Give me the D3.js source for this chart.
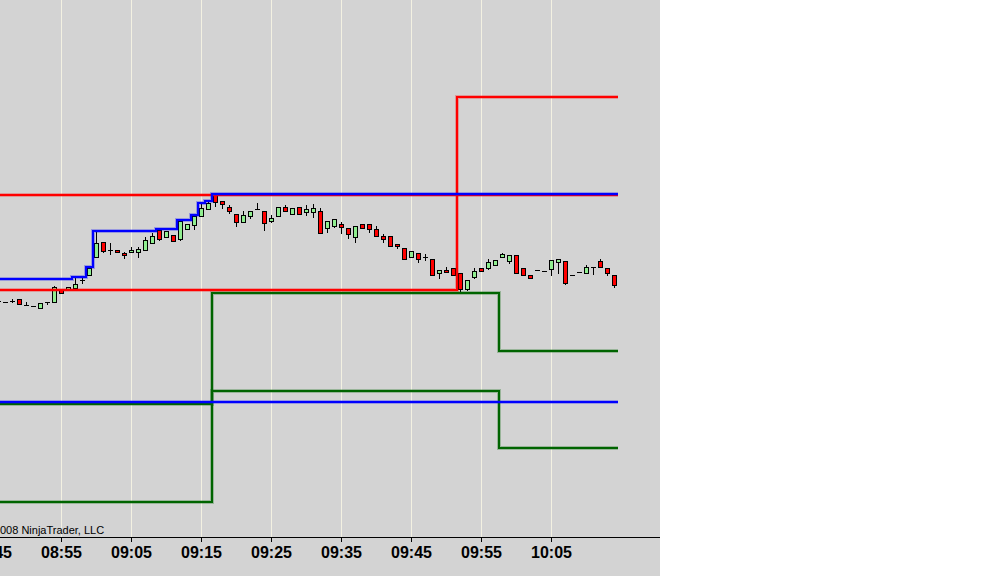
<!DOCTYPE html>
<html><head><meta charset="utf-8">
<script src="https://cdn.jsdelivr.net/npm/d3@7"></script>
<style>body{margin:0;background:#fff;} svg{display:block}</style>
</head><body>
<svg id="c" width="1003" height="576"></svg>
<script>
// ---- DATA ----
const firstBarTime = "08:46";   // 1-minute bars
const opens  = [1274.75,1274.5,1274.75,1275.25,1273.75,1273.5,1273,1274.5,1274.5,1277.5,1277.5,1278,1280,1281.25,1285.75,1289.5,1287.5,1287.5,1286.75,1287,1287,1287.5,1289.25,1292.5,1290.75,1291.25,1290.25,1292.75,1293.75,1296,1297.75,1301.25,1299.75,1298.25,1296.5,1294.5,1296,1297.75,1297.25,1294.75,1296,1298.25,1296.5,1298.25,1297,1297,1297.25,1293,1293.5,1294,1293,1290.75,1294,1294,1292.75,1291,1291,1289,1288,1285.75,1286.75,1285.75,1285.25,1281.75,1282.5,1283,1281.75,1277.75,1280.75,1283,1283,1283.75,1285.75,1284.75,1286.25,1283,1281.25,1282.5,1282.25,1282.75,1284.5,1284.75,1281.25,1282,1281.75,1283.25,1284.75,1283,1281.25];
const highs  = [1274.75,1274.5,1275.25,1275.25,1274.5,1273.5,1274.25,1274.5,1278.5,1277.5,1278.25,1280.75,1280.5,1283.25,1292.25,1289.5,1289.25,1287.5,1287,1288.25,1288.25,1290.75,1291.75,1292.75,1292.25,1291.25,1295,1294,1296.25,1299.25,1299.75,1301.5,1299.75,1298.75,1296.5,1297.25,1297.25,1299.25,1297.25,1296.25,1298.25,1298.75,1298,1298.25,1298.75,1299,1298,1294.75,1295.25,1294.5,1293,1293.5,1294,1294,1293.5,1291.5,1291,1289,1288,1287.25,1286.75,1286.5,1285.25,1282.5,1283.25,1283,1281.75,1280,1283,1283,1285.25,1285,1286.75,1286.25,1286.25,1283,1281.25,1282.5,1282.25,1285,1285.25,1284.75,1281.25,1282,1283.75,1283.25,1285.25,1283,1281.25];
const lows   = [1274.75,1274.5,1274.5,1274,1273.75,1273.5,1273,1274,1274.5,1276.75,1277.5,1278,1279.25,1281.25,1285.75,1287,1286.5,1287,1285.5,1287,1285.75,1287.5,1289.25,1290,1290.75,1289.75,1290,1292.75,1292.75,1296,1297.75,1298.5,1298,1296.75,1293.5,1294.5,1295.5,1297.75,1292.5,1294.5,1296,1297.25,1296.5,1296.5,1296.25,1295.75,1291.75,1292,1293.25,1291.75,1290.5,1289.5,1293,1292,1291,1289.5,1288.5,1288,1285.25,1285.75,1284.5,1285,1281.25,1280.5,1282,1281.25,1277,1277.5,1280.5,1282.25,1282.75,1283.75,1285.75,1284.25,1281.75,1281.25,1280.5,1282.5,1282.25,1281.25,1281.75,1279,1281.25,1282,1281.75,1281.5,1283.25,1281.25,1278.25];
const closes = [1274.75,1274.5,1274.75,1274,1273.75,1273.5,1274.25,1274.5,1278.25,1276.75,1278.25,1279,1280,1283,1289.25,1287.25,1287.5,1287,1286.25,1287.5,1287.75,1290,1291,1290.25,1292.25,1289.75,1294.75,1294,1296,1298,1299.25,1299.5,1299,1297.25,1294.5,1296.25,1297.25,1297.75,1294.25,1295.5,1298.25,1297.25,1298,1296.5,1297.75,1298,1291.75,1294.75,1295.25,1293.25,1291.5,1293.5,1293,1292.75,1291,1290.25,1288.5,1288.5,1285.25,1287.25,1285.25,1285.75,1281.25,1282.5,1282,1281.25,1277.75,1280,1282.25,1282.25,1284.5,1285,1286.5,1286.25,1281.75,1281.25,1280.5,1282.5,1282.25,1285,1285.25,1279.25,1281.25,1282,1283.25,1283.25,1283.25,1281.75,1278.75];

const tickLabels = ["08:45","08:55","09:05","09:15","09:25","09:35","09:45","09:55","10:05"];

// level indicators: [time from which value applies, price]
const redUpperSteps  = [["08:45", 1301.25]];
const redLowerSteps  = [["08:45", 1277.5], ["09:52", 1325.75]];
const blueLowSteps   = [["08:45", 1249.5]];
const blueHighBefore = 1280.25;   // session high carried in from bars left of the view
const green1Steps    = [["08:45", 1249], ["09:17", 1276.75], ["09:58", 1262.25]];
const green2Steps    = [["08:45", 1224.5], ["09:17", 1252.25], ["09:58", 1238]];

const copyright = "\u00A9 2008 NinjaTrader, LLC";

// ---- CHART ----
const W = 1003, H = 576, plotW = 660, axisY = 537;
const svg = d3.select("#c");
const parse = d3.timeParse("%H:%M");
const t0 = parse(firstBarTime);
const bars = opens.map((o, i) => ({t: d3.timeMinute.offset(t0, i), o, h: highs[i], l: lows[i], c: closes[i]}));

const x = d3.scaleTime().domain([parse("08:45"), parse("10:15")]).range([-8.5, 621.5]);
const y = d3.scaleLinear().domain([1206, 1350]).range([576, 0]);

svg.append("rect").attr("width", W).attr("height", H).attr("fill", "#ffffff");
svg.append("rect").attr("width", plotW).attr("height", H).attr("fill", "#d3d3d3");

svg.append("clipPath").attr("id", "plot").append("rect").attr("width", plotW).attr("height", axisY);

const ticks = tickLabels.map(parse);
svg.append("g").selectAll("line").data(ticks).join("line")
  .attr("x1", d => x(d)).attr("x2", d => x(d))
  .attr("y1", 0).attr("y2", axisY)
  .attr("stroke", "#f3f1e2").attr("stroke-width", 1);

const plot = svg.append("g").attr("clip-path", "url(#plot)");

// candles
const cg = plot.append("g");
const bw = 2; // half body width offset
cg.selectAll("line.w").data(bars).join("line").attr("class", "w")
  .attr("x1", d => x(d.t)).attr("x2", d => x(d.t))
  .attr("y1", d => y(d.h)).attr("y2", d => y(d.l) + 1)
  .attr("stroke", "#000").attr("stroke-width", 1);
cg.selectAll("rect.b").data(bars.filter(d => d.o !== d.c)).join("rect").attr("class", "b")
  .attr("x", d => x(d.t) - bw).attr("width", bw * 2)
  .attr("y", d => y(Math.max(d.o, d.c)) + 0.5)
  .attr("height", d => Math.abs(y(d.o) - y(d.c)))
  .attr("fill", d => d.c > d.o ? "#90ee90" : "#ff0000")
  .attr("stroke", "#000").attr("stroke-width", 1);
cg.selectAll("line.d").data(bars.filter(d => d.o === d.c)).join("line").attr("class", "d")
  .attr("x1", d => x(d.t) - 2.5).attr("x2", d => x(d.t) + 2.5)
  .attr("y1", d => y(d.o) + 0.5).attr("y2", d => y(d.o) + 0.5)
  .attr("stroke", "#000").attr("stroke-width", 1);

// level lines
function fromSteps(steps) {
  const s = steps.map(([t, v]) => [parse(t), v]);
  return bars.map(b => { let v = s[0][1]; s.forEach(([t, val]) => { if (b.t >= t) v = val; }); return v; });
}
let runHigh = blueHighBefore;
const blueHigh = bars.map(b => (runHigh = Math.max(runHigh, b.h)));

function stepPoints(levels) {
  const pts = [];
  bars.forEach((b, i) => {
    pts.push([x(d3.timeSecond.offset(b.t, -30)), y(levels[i])]);
    pts.push([x(d3.timeSecond.offset(b.t, 30)), y(levels[i])]);
  });
  return pts;
}
const line = d3.line();
const lg = plot.append("g").attr("fill", "none");
function drawLevel(levels, color) {
  const d = line(stepPoints(levels));
  lg.append("path").attr("d", d).attr("stroke", color).attr("stroke-width", 4).attr("stroke-opacity", 0.28);
  lg.append("path").attr("d", d).attr("stroke", color).attr("stroke-width", 2);
}
drawLevel(fromSteps(green2Steps), "#006400");
drawLevel(fromSteps(green1Steps), "#006400");
drawLevel(fromSteps(redLowerSteps), "#ff0000");
drawLevel(fromSteps(redUpperSteps), "#ff0000");
drawLevel(fromSteps(blueLowSteps), "#0000ff");
drawLevel(blueHigh, "#0000ff");

// axis
const ax = svg.append("g").attr("transform", `translate(0,${axisY})`)
  .call(d3.axisBottom(x).tickValues(ticks).tickFormat(d3.timeFormat("%H:%M")).tickSize(5).offset(0));
ax.select(".domain").remove();
ax.append("line").attr("x1", 0).attr("x2", plotW).attr("y1", 0.5).attr("y2", 0.5).attr("stroke", "#000");
ax.selectAll(".tick line").attr("stroke", "#000");
ax.selectAll(".tick text").attr("y", 21).attr("dy", null)
  .attr("font-family", "'Liberation Sans', Arial, sans-serif").attr("font-size", 16).attr("font-weight", "bold").attr("fill", "#000");

// copyright
const cp = svg.append("text").attr("y", 534)
  .attr("font-family", "'Liberation Sans', Arial, sans-serif").attr("font-size", 11).attr("fill", "#000");
const probe = svg.append("text").attr("font-family", "'Liberation Sans', Arial, sans-serif").attr("font-size", 11).text(copyright.slice(0, 3));
const pre = probe.node().getComputedTextLength(); probe.remove();
cp.attr("x", -pre).text(copyright);
</script></body></html>
